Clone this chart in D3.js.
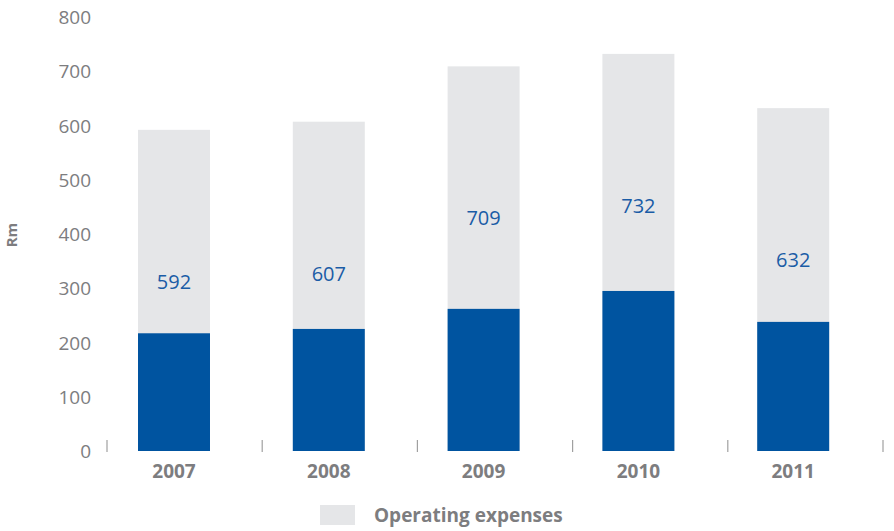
<!DOCTYPE html>
<html>
<head>
<meta charset="utf-8">
<script src="https://cdn.jsdelivr.net/npm/d3@7"></script>
<style>
  html, body { margin: 0; padding: 0; background: #fff; }
  svg { display: block; font-family: "Open Sans", "Noto Sans", sans-serif; }
</style>
</head>
<body>
<svg id="chart" width="894" height="531"></svg>
<script>
// Operating expenses per year (Rm) with the darker base portion
const years = ["2007", "2008", "2009", "2010", "2011"];
const operatingExpenses = [592, 607, 709, 732, 632];
const basePortion = [217, 225, 262, 295, 238];
const yTicks = [0, 100, 200, 300, 400, 500, 600, 700, 800];
const legendLabel = "Operating expenses";
const yTitle = "Rm";

const svg = d3.select("#chart");
const grey = "#e5e6e8";
const blue = "#0054a0";
const labelBlue = "#1a5ca6";
const textGrey = "#7d7d7f";

const y = d3.scaleLinear().domain([0, 800]).range([451, 17]);

// Bars
const x = d3.scaleBand()
  .domain(years)
  .range([96.6, 870.6])
  .paddingInner(0.535)
  .paddingOuter(0.2675);

// Category dividers on the baseline
const dividers = d3.scalePoint()
  .domain(d3.range(years.length + 1))
  .range([107, 883]);

const rows = years.map((yr, i) => ({
  year: yr, total: operatingExpenses[i], base: basePortion[i]
}));

// Y axis labels only (no line, no tick marks)
const yAxis = d3.axisLeft(y).tickValues(yTicks).tickSize(0).tickPadding(0);
const yg = svg.append("g").attr("transform", "translate(91,0)").call(yAxis);
yg.select(".domain").remove();
yg.selectAll("text")
  .attr("fill", textGrey)
  .style("font-size", "19px")
  .style("font-family", "'Open Sans', sans-serif")
  .attr("dy", "0.35em");

// Axis title, rotated
svg.append("text")
  .attr("transform", `translate(17,${y(400) + 1}) rotate(-90)`)
  .attr("text-anchor", "middle")
  .attr("fill", textGrey)
  .style("font-size", "15px")
  .style("font-weight", "bold")
  .text(yTitle);

// Total bars
svg.append("g").selectAll("rect")
  .data(rows)
  .join("rect")
  .attr("x", d => x(d.year))
  .attr("width", x.bandwidth())
  .attr("y", d => y(d.total))
  .attr("height", d => y(0) - y(d.total))
  .attr("fill", grey);

// Base portion bars
svg.append("g").selectAll("rect")
  .data(rows)
  .join("rect")
  .attr("x", d => x(d.year))
  .attr("width", x.bandwidth())
  .attr("y", d => y(d.base))
  .attr("height", d => y(0) - y(d.base))
  .attr("fill", blue);

// Value labels inside the light part of each bar
svg.append("g").selectAll("text")
  .data(rows)
  .join("text")
  .attr("x", d => x(d.year) + x.bandwidth() / 2)
  .attr("y", d => y(d.total) + 152)
  .attr("text-anchor", "middle")
  .attr("dy", "0.35em")
  .attr("fill", labelBlue)
  .style("font-size", "20px")
  .text(d => d.total);

// Baseline divider ticks
svg.append("g").selectAll("line")
  .data(dividers.domain())
  .join("line")
  .attr("x1", d => dividers(d))
  .attr("x2", d => dividers(d))
  .attr("y1", 440)
  .attr("y2", 452)
  .attr("stroke", "#a0a0a0")
  .attr("stroke-width", 1.2);

// Year labels
svg.append("g").selectAll("text")
  .data(years)
  .join("text")
  .attr("x", d => x(d) + x.bandwidth() / 2)
  .attr("y", 471)
  .attr("dy", "0.35em")
  .attr("text-anchor", "middle")
  .attr("fill", textGrey)
  .style("font-size", "19px")
  .style("font-weight", "bold")
  .text(d => d);

// Legend
const lg = svg.append("g");
lg.append("rect")
  .attr("x", 320).attr("y", 505)
  .attr("width", 35).attr("height", 20)
  .attr("fill", grey);
lg.append("text")
  .attr("x", 374).attr("y", 515)
  .attr("dy", "0.35em")
  .attr("fill", textGrey)
  .style("font-size", "19px")
  .style("font-weight", "bold")
  .text(legendLabel);
</script>
</body>
</html>
